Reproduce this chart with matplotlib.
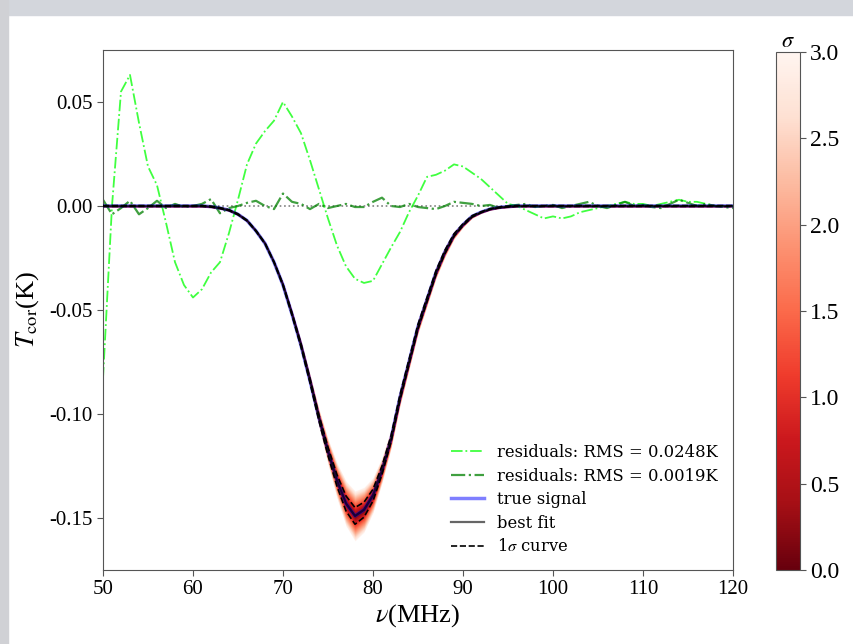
import matplotlib
matplotlib.use('Agg')
import matplotlib.pyplot as plt
import numpy as np
from matplotlib.patches import Rectangle

plt.rcParams['font.family'] = 'serif'
plt.rcParams['font.serif'] = ['Liberation Serif', 'DejaVu Serif']
plt.rcParams['mathtext.fontset'] = 'stix'
plt.rcParams['axes.unicode_minus'] = False

# frequency grid (MHz)
nu = np.arange(50, 121)

# best fit / true signal (K)
signal = [0, 0, 0, 0, 0, 0, 0, 0, 0, 0,
          0, 0, -0.0003, -0.001, -0.002, -0.004, -0.007, -0.012, -0.018, -0.027,
          -0.038, -0.052, -0.067, -0.084, -0.102, -0.118, -0.132, -0.143, -0.149, -0.146,
          -0.139, -0.127, -0.112, -0.092, -0.075, -0.058, -0.045, -0.032, -0.022, -0.014,
          -0.009, -0.005, -0.003, -0.0015, -0.0007, -0.0003, 0, 0, 0, 0,
          0, 0, 0, 0, 0, 0, 0, 0, 0, 0,
          0, 0, 0, 0, 0, 0, 0, 0, 0, 0, 0]

# 1 sigma spread of the fit (K)
sigma = [0.0002] * 20 + [0.0004, 0.0006, 0.0008, 0.001, 0.0014, 0.002, 0.0028, 0.0036,
                         0.004, 0.0036, 0.0028, 0.002, 0.0015, 0.0013, 0.0012, 0.0011,
                         0.001, 0.0009, 0.0008, 0.0006, 0.0004, 0.0003] + [0.0002] * 29

# residuals, large RMS
res_big = [-0.083, 0.0, 0.055, 0.063, 0.040, 0.019, 0.010, -0.008, -0.027, -0.038,
           -0.044, -0.040, -0.032, -0.027, -0.013, 0.003, 0.020, 0.030, 0.036, 0.041,
           0.050, 0.043, 0.035, 0.022, 0.008, -0.006, -0.019, -0.029, -0.035, -0.037,
           -0.036, -0.028, -0.020, -0.0125, -0.003, 0.005, 0.014, 0.015, 0.017, 0.020,
           0.019, 0.016, 0.013, 0.009, 0.005, 0.001, 0.0, -0.002, -0.004, -0.006,
           -0.005, -0.006, -0.005, -0.003, -0.002, -0.001, 0.0, 0.001, 0.002, 0.001,
           0.001, 0.0, 0.001, 0.002, 0.003, 0.002, 0.002, 0.001, 0.0, 0.0, 0.0]

# residuals, small RMS
res_small = [0.003, -0.004, -0.001, 0.0025, -0.004, -0.001, 0.0025, -0.001, 0.001, -0.0005,
             0.0, 0.001, 0.0033, -0.0035, -0.001, 0.0, 0.0015, 0.0025, 0.0, -0.0015,
             0.006, 0.002, 0.001, -0.0015, 0.001, -0.001, 0.0, 0.001, -0.0005, -0.0005,
             0.002, 0.004, 0.0, -0.0005, 0.001, -0.0005, -0.001, -0.0015, 0.0, 0.002,
             0.0015, 0.001, 0.0, 0.0005, -0.001, 0.0, 0.0005, 0.001, -0.0005, 0.0,
             0.0005, -0.001, 0.0, 0.001, 0.002, 0.0, -0.001, 0.0005, 0.002, 0.0,
             0.0005, -0.0005, -0.001, 0.001, 0.003, 0.0015, 0.0, 0.001, 0.0, -0.0005, -0.001]

signal = np.array(signal)
sigma = np.array(sigma)

fig = plt.figure(figsize=(8.54, 6.44), dpi=100)
# slide background strips around the picture
fig.add_artist(Rectangle((0, 1 - 15 / 644), 1, 15 / 644, transform=fig.transFigure,
                         color='#d3d6dc', zorder=-5))
fig.add_artist(Rectangle((0, 0), 8 / 854, 1, transform=fig.transFigure,
                         color='#d0d1d5', zorder=-5))

ax = fig.add_axes([0.1206, 0.1149, 0.7377, 0.8075])
cax = fig.add_axes([0.9087, 0.1149, 0.028, 0.8044])

cmap = plt.get_cmap('Reds_r')
# sigma shading, outer levels first
for k in np.linspace(3, 0.05, 40):
    ax.fill_between(nu, signal - k * sigma, signal + k * sigma,
                    color=cmap(k / 3), lw=0, zorder=1)

ax.axhline(0, color='gray', ls=':', lw=1.2, zorder=0)
ax.plot(nu, res_big, color='lime', ls='-.', lw=1.3, alpha=0.75,
        label='residuals: RMS = 0.0248K', zorder=2)
ax.plot(nu, res_small, color='green', ls='-.', lw=1.6, alpha=0.75,
        label='residuals: RMS = 0.0019K', zorder=2)
ax.plot(nu, signal, color='blue', lw=2.5, alpha=0.5, label='true signal', zorder=3)
ax.plot(nu, signal, color='black', lw=1.6, alpha=0.6, label='best fit', zorder=4)
ax.plot(nu, signal - sigma, color='black', ls='--', lw=1.2, label=r'1$\sigma$ curve', zorder=4)
ax.plot(nu, signal + sigma, color='black', ls='--', lw=1.2, zorder=4)

ax.set_xlim(50, 120)
ax.set_ylim(-0.175, 0.075)
ax.set_xticks(np.arange(50, 121, 10))
ax.set_yticks([-0.15, -0.10, -0.05, 0.00, 0.05])
ax.set_yticklabels(['-0.15', '-0.10', '-0.05', '0.00', '0.05'])
ax.tick_params(labelsize=15, direction='out', length=4, color='#555555')
for s in ax.spines.values():
    s.set_color('#555555')
ax.set_xlabel(r'$\nu$(MHz)', fontsize=19, labelpad=2)
ax.set_ylabel(r'$T_{\rm cor}$(K)', fontsize=19, labelpad=6)

ax.legend(loc='lower right', frameon=False, labelspacing=0.4,
          prop={'family': 'DejaVu Serif', 'size': 11.8})

sm = plt.cm.ScalarMappable(cmap=cmap, norm=plt.Normalize(0, 3))
cb = fig.colorbar(sm, cax=cax)
cb.set_ticks([0, 0.5, 1, 1.5, 2, 2.5, 3])
cb.set_ticklabels(['0.0', '0.5', '1.0', '1.5', '2.0', '2.5', '3.0'])
cb.ax.tick_params(labelsize=17, length=4, color='#555555')
cb.outline.set_edgecolor('#555555')
cb.ax.set_title(r'$\sigma$', fontsize=16, pad=2)

fig.savefig('out.png', dpi=100, facecolor='white')
